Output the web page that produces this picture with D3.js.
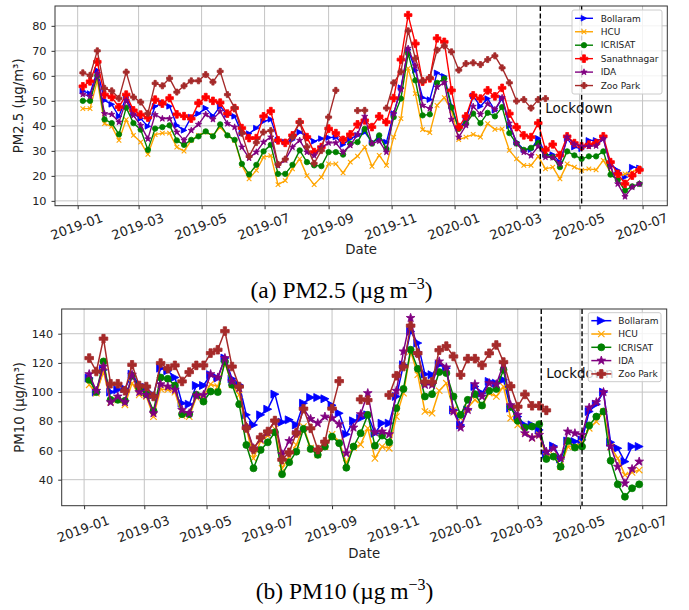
<!DOCTYPE html>
<html>
<head>
<meta charset="utf-8">
<script src="https://cdn.jsdelivr.net/npm/d3@7"></script>
<style>
  html, body { margin: 0; padding: 0; background: #fff; }
  svg { display: block; }
</style>
</head>
<body>
<svg id="chart" width="689" height="610"></svg>
<script>
// ---------------- DATA ----------------
const weeks = [
  "2019-01-06","2019-01-13","2019-01-20","2019-01-27","2019-02-03","2019-02-10","2019-02-17","2019-02-24",
  "2019-03-03","2019-03-10","2019-03-17","2019-03-24","2019-03-31","2019-04-07","2019-04-14","2019-04-21",
  "2019-04-28","2019-05-05","2019-05-12","2019-05-19","2019-05-26","2019-06-02","2019-06-09","2019-06-16",
  "2019-06-23","2019-06-30","2019-07-07","2019-07-14","2019-07-21","2019-07-28","2019-08-04","2019-08-11",
  "2019-08-18","2019-08-25","2019-09-01","2019-09-08","2019-09-15","2019-09-22","2019-09-29","2019-10-06",
  "2019-10-13","2019-10-20","2019-10-27","2019-11-03","2019-11-10","2019-11-17","2019-11-24","2019-12-01",
  "2019-12-08","2019-12-15","2019-12-22","2019-12-29","2020-01-05","2020-01-12","2020-01-19","2020-01-26",
  "2020-02-02","2020-02-09","2020-02-16","2020-02-23","2020-03-01","2020-03-08","2020-03-15","2020-03-22",
  "2020-03-29","2020-04-05","2020-04-12","2020-04-19","2020-04-26","2020-05-03","2020-05-10","2020-05-17",
  "2020-05-24","2020-05-31","2020-06-07","2020-06-14","2020-06-21","2020-06-28"
];

const lockdownDates = ["2020-03-24", "2020-05-03"];
const xTickDates = ["2019-01-01","2019-03-01","2019-05-01","2019-07-01","2019-09-01","2019-11-01",
                    "2020-01-01","2020-03-01","2020-05-01","2020-07-01"];
const pm25Ticks = [10, 20, 30, 40, 50, 60, 70, 80];
const pm10Ticks = [40, 60, 80, 100, 120, 140];

// PM2.5 weekly means (µg/m³)
const pm25Bollaram = [53.9,52.9,62.2,50.2,48.6,43.8,51.5,44.9,42.9,39.8,
  47.8,49.1,47.8,40.2,38.2,43.5,44.9,47.1,43.9,47.8,
  44.5,43.8,37.1,36.9,39.1,41.8,42.6,34.4,33.5,34.4,
  37.5,35.8,33.8,34.9,35.3,35.5,32.5,34.9,36.2,37.5,
  33.5,34.9,33.5,44.9,55.3,70.5,62.2,51.3,50.5,61.2,
  59.8,48,38.9,42.2,52,47.8,50.9,46.2,51,40,
  33.5,30.5,30.5,35,28.5,28.5,25.5,34.8,31.5,30.8,
  34.2,34.2,34.8,24.8,22.2,19.5,23.5,23.2];
const pm25HCU = [46.9,46.9,58.2,40.9,39.8,34.2,42.5,36.2,33.5,28.6,
  36.5,37.1,37.1,31.5,29.9,34.2,36.2,37.5,36.2,39.5,
  36.2,34.2,24.2,18.8,22.2,27.5,28.1,16.5,18.1,22.8,
  26.8,20.1,16.5,19.5,24.8,24.8,21.2,25.5,27.9,31.5,
  23.8,28.2,24.2,35.5,42.9,63,52.9,38.5,37.3,48.2,
  51.3,46.2,34.5,35.5,36.6,35.5,40.9,38.6,38.8,30.2,
  26.8,24.2,24.2,27.8,22.8,23.5,18.8,24.8,23.5,22.2,
  22.8,22.4,26.2,21.5,19.8,20.8,21.5,22.8];
const pm25ICRISAT = [50,50,60.2,42.6,41.1,36.6,47.3,41.1,38.5,30.4,
  38.9,39.5,40.2,34.2,32.4,34.4,35.8,37.8,35.8,40.6,
  36.2,34.4,24.8,20.6,24.4,29.8,32.4,20.8,20.8,24.4,
  30.2,25.5,24.2,23.9,29.5,29.5,28.5,32.9,33.5,38.8,
  32.9,36.2,30.8,43.5,50.9,68.9,58.2,44.2,44.6,57.2,
  58.9,47.3,38.8,40.9,44.9,41.1,45.2,43.8,47.5,37.1,
  32.9,30.4,31.2,33.2,28.2,27.5,23.5,29.8,28.2,26.8,
  27.8,27.8,29.8,20.5,18.4,14.1,15.8,16.8];
const pm25Sanathnagar = [55.8,57.8,65.6,52.5,51.5,47.5,52.5,46.2,44.5,43.3,
  50.5,48.9,51.1,44.6,43.9,42.9,49.1,51.5,50,49.3,
  44.9,47.1,39.1,35.1,35.1,43.8,45.9,34.2,33.2,36.2,
  41.5,35.5,29.5,31.5,38.9,37.1,34.4,36.6,40.6,42.2,
  39.5,43.8,41.5,51.1,66.5,84.3,72.9,57.7,59,75,
  73.6,54.2,39.5,43.8,52.2,50.9,54.2,51.8,55.2,44.9,
  39.5,36.2,35.5,41.1,30.4,32.6,28.2,35.8,33.1,31.8,
  32.5,33.1,35.8,25.5,20.8,16.8,20.1,22.4];
const pm25IDA = [52.6,51.9,60.9,44.9,44.6,41.5,50.2,44.2,40.2,34.8,
  44.5,42.9,42.9,37.5,34.2,38.2,40.6,44.6,42.6,45.8,
  40.9,39.5,31.5,27.1,29.5,33.5,35.5,24.2,26.4,31.5,
  34.2,29.5,28.1,31.3,33.2,33.2,29.5,32.2,36.6,43.8,
  33,33.9,29.5,44.9,54.6,71,64,48.2,46.9,55.5,
  57.3,42.6,35.5,40.2,47.8,44.6,48.8,46.5,51.3,41.1,
  33,29.5,28.1,31.8,27.5,27.3,24.8,35.5,32.6,31.8,
  31.8,32,34.9,23.5,16.8,11.7,15.5,16.8];
const pm25ZooPark = [61.2,60.2,70,55,54,51,61.5,51.5,49.5,45,
  57,56,59,53.5,56,58,58,60.5,57.5,61.8,
  52.5,47.2,37,27.8,33.3,37.5,38.1,24.6,26.7,35.4,
  41.5,31.6,25,30.1,43.5,54.2,null,null,46.1,46.2,
  null,null,47.1,57.2,61.6,78,67,58,59.3,70.3,
  72,69.6,62.3,64.9,65.2,64.5,66.5,68,63.2,57.2,
  49.9,50.5,47.1,50.5,50.9,null,null,null,null,null,
  null,null,null,null,null,null,null,null];

// PM10 weekly means (µg/m³)
const pm10Bollaram = [109.6,100,115.3,100,101.6,102.3,112.3,105,103.2,98,
  116.4,114.6,110,92.4,91.7,104.5,104.5,111.9,109.6,123.3,
  109.1,105,84.4,77.5,84.4,88.3,98.6,79.4,81,77.5,
  92.4,96.3,96.3,95.4,91,85.5,71.1,80.3,82,84.4,
  71.8,78.7,78.7,97,118.7,141.6,133.6,112.3,111.9,118.7,
  116.4,87.8,77.5,87.8,103.8,99.3,107.3,106.1,108.4,89,
  83.2,77.5,77.5,74.1,57.5,63.1,54.2,66.5,66.1,67.2,
  86.7,91.7,100,65.6,61.5,52.4,62.7,62.7];
const pm10HCU = [105,99.3,114.1,93.1,94.7,91.3,106.1,98.1,97,83.2,
  102.2,101.6,100,83.9,83.2,96.3,97,105.4,103.8,119.9,
  105,98.1,75.2,54.6,66.5,70.2,74.8,47.8,55.8,63.8,
  76.4,61.6,57,62.7,71.1,66.1,51.2,62,64,75.2,
  54.6,62.7,61.5,83.2,99.3,127.9,111.9,86.7,85.5,100.9,
  106.1,87.8,82.1,89.4,94.7,91.3,99.3,97,103.8,82.1,
  77.5,73,68.4,70.7,55.8,56.9,48.9,62.7,62.7,65,
  75.2,79.8,86.7,62.7,54.6,43.2,45,46.6];
const pm10ICRISAT = [108.4,100,121,94.7,94.7,94,111.2,102.7,98.6,87.1,
  110,109.1,104.5,84.9,84.9,98.1,93.5,100.4,100,121,
  105,91.7,63.8,47.8,60.4,65.6,72.5,43.7,51.9,59.2,
  74.8,61,57,62.7,69.5,65,48.2,62.7,71.8,84.4,
  63.3,70.2,65.6,89,102.2,129,116,97,98.6,113.7,
  113,97,84.4,94.7,98.6,90.8,100.9,102.2,115.3,90,
  80.3,75.7,76.4,78,54.2,55.8,48.9,66.5,62,62.7,
  77.1,83.2,86.7,53,36.8,28.3,34.1,36.8];
const pm10IDA = [112.3,100.9,117.6,93.1,97,93.1,111.9,100,98.1,85.5,
  105.4,103.8,101.6,87.8,85.5,97.7,98.1,112.3,110,123.3,
  107.3,102.7,76.4,61.5,67.9,72.5,80.3,57.4,66.5,72.5,
  88.5,81.6,78.7,83.2,82.1,78,58.1,75.7,84.9,99.3,
  72.5,73,71.1,100.9,127.9,150.8,126.7,105,105,121,
  116.9,86.7,75.7,87.8,105.4,97,106.1,105.4,119.2,91,
  84.4,71.8,68.8,70.7,59.2,61.5,54.6,73,71.8,70.7,
  89.4,93.1,100,62.7,48.9,37.5,47.3,52.4];
const pm10ZooPark = [123.3,114.1,136.6,105.7,105.7,100.9,118.7,104.5,103.8,97,
  119.9,116,118.3,107.3,113.7,118.3,118.3,126.7,129,141.8,
  117.5,103.8,75.4,60.8,69,73,80.5,53.7,58.7,72,
  88.6,75.2,60.6,66,88.7,107.5,null,null,95,94.5,
  null,null,98,111.2,117.5,145.5,126.6,107.2,107,128.7,
  131.5,124.4,111.8,122.9,122.9,118.4,126.6,132.3,120.6,104,
  90,98.4,90.6,90.6,87.5,null,null,null,null,null,
  null,null,null,null,null,null,null,null];

// ---------------- DRAWING ----------------
const parse = d3.timeParse("%Y-%m-%d");
const dates = weeks.map(parse);
const svg = d3.select("#chart");
const FONT = "'DejaVu Sans', sans-serif";

function markerPath(type, s) {
  if (type === "tri") return `M${s},0L${-s},${s}L${-s},${-s}Z`;
  if (type === "x") return `M${-s},${-s}L${s},${s}M${-s},${s}L${s},${-s}`;
  if (type === "circle") return `M${s},0A${s},${s} 0 1,1 ${-s},0A${s},${s} 0 1,1 ${s},0Z`;
  if (type === "plus") {
    const w = s * 0.38;
    return `M${-w},${-s}L${w},${-s}L${w},${-w}L${s},${-w}L${s},${w}L${w},${w}L${w},${s}L${-w},${s}L${-w},${w}L${-s},${w}L${-s},${-w}L${-w},${-w}Z`;
  }
  if (type === "star") {
    const pts = [];
    for (let i = 0; i < 10; i++) {
      const r = i % 2 === 0 ? s : s * 0.4;
      const a = -Math.PI / 2 + i * Math.PI / 5;
      pts.push([r * Math.cos(a), r * Math.sin(a)]);
    }
    return "M" + pts.map(p => p[0].toFixed(2) + "," + p[1].toFixed(2)).join("L") + "Z";
  }
}

function drawPanel(cfg) {
  const g = svg.append("g");
  const allVals = cfg.series.flatMap(s => s.values.filter(v => v != null));
  const vmin = d3.min(allVals), vmax = d3.max(allVals);
  const vpad = (vmax - vmin) * 0.05;
  const t0 = d3.min(dates), t1 = d3.max(dates);
  const tpad = (t1 - t0) * 0.05;

  const x = d3.scaleTime().domain([new Date(+t0 - tpad), new Date(+t1 + tpad)]).range([cfg.left, cfg.right]);
  const y = d3.scaleLinear().domain([vmin - vpad, vmax + vpad]).range([cfg.bottom, cfg.top]);

  const xt = xTickDates.map(parse);

  // grid
  g.append("g").selectAll("line").data(xt).join("line")
    .attr("x1", d => x(d)).attr("x2", d => x(d))
    .attr("y1", cfg.top).attr("y2", cfg.bottom)
    .attr("stroke", "#c4c4c4").attr("stroke-width", 1);
  g.append("g").selectAll("line").data(cfg.yTicks).join("line")
    .attr("x1", cfg.left).attr("x2", cfg.right)
    .attr("y1", d => y(d)).attr("y2", d => y(d))
    .attr("stroke", "#c4c4c4").attr("stroke-width", 1);

  // axes via d3
  const xAxis = d3.axisBottom(x).tickValues(xt).tickSize(3.5).tickFormat("");
  const yAxis = d3.axisLeft(y).tickValues(cfg.yTicks).tickSize(3.5).tickFormat("");
  const gx = g.append("g").attr("transform", `translate(0,${cfg.bottom})`).call(xAxis);
  const gy = g.append("g").attr("transform", `translate(${cfg.left},0)`).call(yAxis);
  [gx, gy].forEach(a => { a.select(".domain").remove(); a.selectAll("line").attr("stroke", "#333"); });

  // y tick labels
  g.append("g").selectAll("text").data(cfg.yTicks).join("text")
    .attr("x", cfg.left - 8.5).attr("y", d => y(d))
    .attr("dy", "0.36em").attr("text-anchor", "end")
    .attr("font-family", FONT).attr("font-size", cfg.yTickFont).attr("fill", "#222")
    .text(d => d);

  // x tick labels rotated
  const fmt = d3.timeFormat("%Y-%m");
  g.append("g").selectAll("text").data(xt).join("text")
    .attr("transform", d => `translate(${x(d) - 1},${cfg.bottom + cfg.xLabOff}) rotate(-20)`)
    .attr("text-anchor", "middle").attr("dy", "0.36em")
    .attr("font-family", FONT).attr("font-size", 13).attr("fill", "#222")
    .text(d => fmt(d));

  // axis titles
  g.append("text")
    .attr("x", (cfg.left + cfg.right) / 2).attr("y", cfg.dateY)
    .attr("text-anchor", "middle").attr("font-family", FONT).attr("font-size", 13.3).attr("fill", "#222")
    .text("Date");
  g.append("text")
    .attr("transform", `translate(${cfg.yLabX},${(cfg.top + cfg.bottom) / 2}) rotate(-90)`)
    .attr("text-anchor", "middle").attr("dy", "0.36em")
    .attr("font-family", FONT).attr("font-size", 13.3).attr("fill", "#222")
    .text(cfg.yLabel);

  // series
  const clip = "clip" + cfg.id;
  svg.append("clipPath").attr("id", clip).append("rect")
    .attr("x", cfg.left).attr("y", cfg.top).attr("width", cfg.right - cfg.left).attr("height", cfg.bottom - cfg.top);
  const plot = g.append("g").attr("clip-path", `url(#${clip})`);
  const line = d3.line().defined(d => d[1] != null).x(d => x(d[0])).y(d => y(d[1]));

  cfg.series.forEach(s => {
    const pts = dates.map((d, i) => [d, s.values[i]]);
    plot.append("path").datum(pts).attr("d", line)
      .attr("fill", "none").attr("stroke", s.color).attr("stroke-width", cfg.lw)
      .attr("stroke-linejoin", "round");
    const mp = markerPath(s.marker, s.size);
    plot.append("g").selectAll("path").data(pts.filter(p => p[1] != null)).join("path")
      .attr("transform", p => `translate(${x(p[0])},${y(p[1])})`)
      .attr("d", mp)
      .attr("fill", s.marker === "x" ? "none" : s.color)
      .attr("stroke", s.color).attr("stroke-width", s.marker === "x" ? 1.1 : 0.8);
  });

  // lockdown lines
  lockdownDates.map(parse).forEach(d => {
    g.append("line").attr("x1", x(d)).attr("x2", x(d)).attr("y1", cfg.top).attr("y2", cfg.bottom)
      .attr("stroke", "#000").attr("stroke-width", 1.4).attr("stroke-dasharray", "5,2.4");
  });
  g.append("text").attr("x", x(parse(lockdownDates[0])) + 5).attr("y", cfg.lockY)
    .attr("font-family", FONT).attr("font-size", 13.5).attr("fill", "#111")
    .text("Lockdown");

  // frame
  g.append("rect").attr("x", cfg.left).attr("y", cfg.top)
    .attr("width", cfg.right - cfg.left).attr("height", cfg.bottom - cfg.top)
    .attr("fill", "none").attr("stroke", "#333").attr("stroke-width", 1);

  // legend
  const L = cfg.legend;
  const lg = g.append("g");
  lg.append("rect").attr("x", L.x).attr("y", L.y).attr("width", L.w).attr("height", L.h)
    .attr("rx", 2).attr("fill", "#fff").attr("fill-opacity", 0.8)
    .attr("stroke", "#cccccc").attr("stroke-width", 1);
  cfg.series.forEach((s, i) => {
    const yy = L.y + L.first + i * L.step;
    lg.append("line").attr("x1", L.x + 3).attr("x2", L.x + 3 + L.lineW).attr("y1", yy).attr("y2", yy)
      .attr("stroke", s.color).attr("stroke-width", cfg.lw);
    lg.append("path").attr("transform", `translate(${L.x + 3 + L.lineW / 2},${yy})`)
      .attr("d", markerPath(s.marker, s.size))
      .attr("fill", s.marker === "x" ? "none" : s.color)
      .attr("stroke", s.color).attr("stroke-width", s.marker === "x" ? 1.1 : 0.8);
    lg.append("text").attr("x", L.x + L.textOff).attr("y", yy).attr("dy", "0.36em")
      .attr("font-family", FONT).attr("font-size", 9).attr("fill", "#222").text(s.name);
  });

  // caption
  const cap = g.append("text").attr("x", cfg.capX).attr("y", cfg.capY).attr("text-anchor", "middle")
    .attr("font-family", "'Liberation Serif', 'Times New Roman', serif").attr("font-size", 23.5).attr("fill", "#000");
  cap.append("tspan").text(cfg.caption + " (µg\u2009m");
  cap.append("tspan").attr("dy", -9.5).attr("font-size", 16).text("\u22123");
  cap.append("tspan").attr("dy", 9.5).text(")");
}

drawPanel({
  id: "a", left: 55, right: 667.3, top: 6, bottom: 205.7,
  yTicks: pm25Ticks, yTickFont: 11.3, yLabel: "PM2.5 (µg/m³)", yLabX: 18,
  xLabOff: 20.5, dateY: 253.5, lockY: 113, lw: 1.4,
  caption: "(a) PM2.5", capX: 341.5, capY: 298,
  legend: { x: 572, y: 10, w: 90, h: 84, first: 8.3, step: 13.45, lineW: 18, textOff: 28.7 },
  series: [
    { name: "Bollaram", values: pm25Bollaram, color: "blue", marker: "tri", size: 2.8 },
    { name: "HCU", values: pm25HCU, color: "orange", marker: "x", size: 2.3 },
    { name: "ICRISAT", values: pm25ICRISAT, color: "green", marker: "circle", size: 2.7 },
    { name: "Sanathnagar", values: pm25Sanathnagar, color: "red", marker: "plus", size: 3.8 },
    { name: "IDA", values: pm25IDA, color: "purple", marker: "star", size: 3.3 },
    { name: "Zoo Park", values: pm25ZooPark, color: "brown", marker: "plus", size: 3 }
  ]
});

drawPanel({
  id: "b", left: 61.7, right: 666.7, top: 309, bottom: 505.7,
  yTicks: pm10Ticks, yTickFont: 11.3, yLabel: "PM10 (µg/m³)", yLabX: 19,
  xLabOff: 23, dateY: 557.5, lockY: 378, lw: 1.5,
  caption: "(b) PM10", capX: 344.5, capY: 599,
  legend: { x: 588.3, y: 312.7, w: 72.7, h: 69, first: 8, step: 13.3, lineW: 20, textOff: 30 },
  series: [
    { name: "Bollaram", values: pm10Bollaram, color: "blue", marker: "tri", size: 4 },
    { name: "HCU", values: pm10HCU, color: "orange", marker: "x", size: 3.2 },
    { name: "ICRISAT", values: pm10ICRISAT, color: "green", marker: "circle", size: 3.5 },
    { name: "IDA", values: pm10IDA, color: "purple", marker: "star", size: 4.6 },
    { name: "Zoo Park", values: pm10ZooPark, color: "brown", marker: "plus", size: 4.3 }
  ]
});
</script>
</body>
</html>
